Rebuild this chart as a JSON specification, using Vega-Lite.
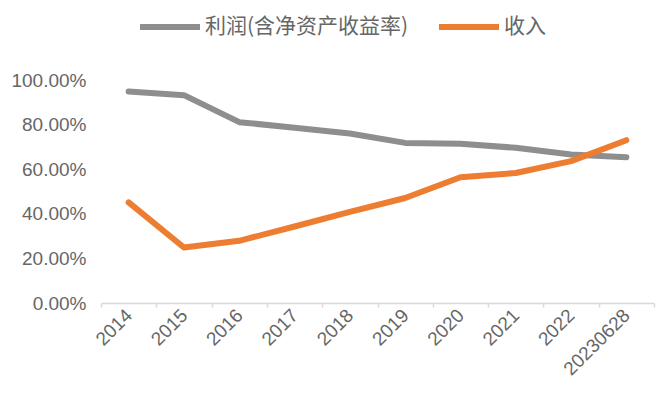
{
  "$schema": "https://vega.github.io/schema/vega-lite/v6.json",
  "width": 553,
  "height": 223,
  "autosize": {"type": "none"},
  "padding": {"left": 101, "top": 80, "right": 6, "bottom": 90},
  "background": "white",
  "config": {"view": {"stroke": null}, "font": "Liberation Sans"},
  "data": {"values": [
    {"year": "2014", "series": "利润(含净资产收益率)", "value": 0.948},
    {"year": "2015", "series": "利润(含净资产收益率)", "value": 0.932},
    {"year": "2016", "series": "利润(含净资产收益率)", "value": 0.811},
    {"year": "2017", "series": "利润(含净资产收益率)", "value": 0.786},
    {"year": "2018", "series": "利润(含净资产收益率)", "value": 0.760},
    {"year": "2019", "series": "利润(含净资产收益率)", "value": 0.718},
    {"year": "2020", "series": "利润(含净资产收益率)", "value": 0.714},
    {"year": "2021", "series": "利润(含净资产收益率)", "value": 0.696},
    {"year": "2022", "series": "利润(含净资产收益率)", "value": 0.666},
    {"year": "20230628", "series": "利润(含净资产收益率)", "value": 0.654},
    {"year": "2014", "series": "收入", "value": 0.451},
    {"year": "2015", "series": "收入", "value": 0.249},
    {"year": "2016", "series": "收入", "value": 0.279},
    {"year": "2017", "series": "收入", "value": 0.343},
    {"year": "2018", "series": "收入", "value": 0.409},
    {"year": "2019", "series": "收入", "value": 0.471},
    {"year": "2020", "series": "收入", "value": 0.564},
    {"year": "2021", "series": "收入", "value": 0.583},
    {"year": "2022", "series": "收入", "value": 0.636},
    {"year": "20230628", "series": "收入", "value": 0.730}
  ]},
  "mark": {"type": "line", "strokeWidth": 6, "strokeCap": "round", "strokeJoin": "round"},
  "encoding": {
    "x": {
      "field": "year", "type": "ordinal", "sort": null,
      "scale": {"type": "band", "paddingInner": 0, "paddingOuter": 0},
      "axis": {
        "title": null, "labelAngle": -45, "labelAlign": "right", "labelBaseline": "middle",
        "labelFontSize": 19, "labelColor": "#666666", "labelPadding": 5,
        "domainColor": "#D9D9D9", "domainWidth": 1.5, "tickColor": "#D9D9D9", "tickWidth": 1.5,
        "tickSize": 4, "tickBand": "extent", "grid": false
      }
    },
    "y": {
      "field": "value", "type": "quantitative",
      "scale": {"domain": [0, 1]},
      "axis": {
        "title": null, "format": ".2%", "values": [0, 0.2, 0.4, 0.6, 0.8, 1.0],
        "labelFontSize": 19, "labelColor": "#666666", "labelPadding": 15,
        "domain": false, "ticks": false, "grid": false
      }
    },
    "color": {
      "field": "series", "type": "nominal",
      "scale": {"domain": ["利润(含净资产收益率)", "收入"], "range": ["#8E8E8E", "#ED7D31"]},
      "legend": {
        "title": null, "orient": "none", "direction": "horizontal",
        "legendX": 36, "legendY": -86,
        "symbolType": "stroke", "symbolSize": 3600, "symbolStrokeWidth": 6,
        "labelFont": "Noto Sans CJK SC", "labelFontSize": 21, "labelColor": "#666666",
        "labelOffset": 2, "columnPadding": 18, "labelLimit": 400
      }
    }
  }
}
